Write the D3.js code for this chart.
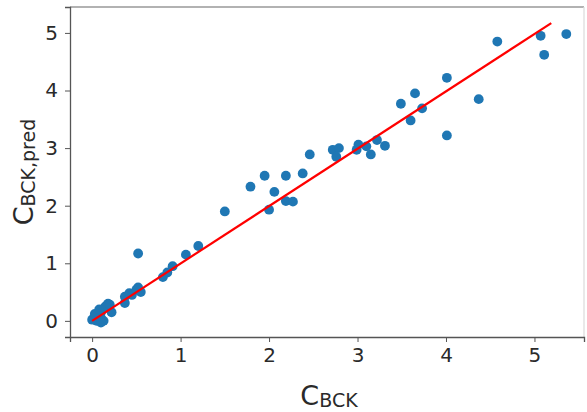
<!DOCTYPE html>
<html>
<head>
<meta charset="utf-8">
<script src="https://cdn.jsdelivr.net/npm/d3@7"></script>
<style>
  body { margin: 0; background: #fff; }
  text { font-family: "DejaVu Sans", sans-serif; fill: #2a2a2a; }
</style>
</head>
<body>
<script>
const actual = [
  0.00, 0.02, 0.05, 0.08, 0.10, 0.12, 0.15, 0.18, 0.20, 0.22, 0.05, 0.10, 0.13, 0.03, 0.08, 0.10,
  0.37, 0.37, 0.42, 0.45, 0.50, 0.55, 0.52, 0.52,
  0.80, 0.85, 0.91, 1.06, 1.20, 1.50,
  1.79, 1.95, 2.06, 2.00, 2.19, 2.19, 2.27, 2.38, 2.46,
  2.72, 2.79, 2.76, 3.01, 2.99, 3.10, 3.15, 3.22, 3.31,
  3.49, 3.60, 3.65, 3.73, 4.01, 4.01, 4.37, 4.58, 5.07, 5.11, 5.36
];
const predicted = [
  0.02, 0.05, 0.10, 0.02, 0.15, 0.20, 0.25, 0.30, 0.28, 0.15, 0.00, 0.05, 0.00, 0.12, 0.20, -0.03,
  0.31, 0.42, 0.48, 0.45, 0.54, 0.50, 0.58, 1.17,
  0.76, 0.84, 0.95, 1.15, 1.30, 1.90,
  2.33, 2.52, 2.24, 1.93, 2.52, 2.08, 2.07, 2.56, 2.89,
  2.97, 3.00, 2.85, 3.06, 2.97, 3.03, 2.89, 3.14, 3.04,
  3.77, 3.48, 3.95, 3.69, 4.22, 3.22, 3.85, 4.85, 4.95, 4.62, 4.98
];
const lineX = [0.0, 5.19];
const lineY = [0.0, 5.17];
const xTicks = [0, 1, 2, 3, 4, 5];
const yTicks = [0, 1, 2, 3, 4, 5];

const W = 587, H = 412;
const svg = d3.select('body').append('svg')
  .attr('width', W)
  .attr('height', H);

const mLeft = 70, mRight = 584, mTop = 7, mBottom = 337;

const x = d3.scaleLinear().domain([-0.25, 5.56]).range([mLeft, mRight]);
const y = d3.scaleLinear().domain([-0.28, 5.45]).range([mBottom, mTop]);

// dots
svg.append('g')
  .selectAll('circle')
  .data(actual.map((d, i) => [d, predicted[i]]))
  .enter()
  .append('circle')
  .attr('cx', d => x(d[0]))
  .attr('cy', d => y(d[1]))
  .attr('r', 4.9)
  .attr('fill', '#1f77b4');

// fit line
svg.append('path')
  .datum(lineX.map((d, i) => [d, lineY[i]]))
  .attr('d', d3.line().x(d => x(d[0])).y(d => y(d[1])))
  .attr('stroke', '#ff0000')
  .attr('stroke-width', 2.2)
  .attr('fill', 'none');

// frame
svg.append('line').attr('x1', mLeft).attr('x2', mRight).attr('y1', mTop).attr('y2', mTop)
  .attr('stroke', '#999').attr('stroke-width', 1.3);
svg.append('line').attr('x1', mRight).attr('x2', mRight).attr('y1', mTop).attr('y2', mBottom)
  .attr('stroke', '#ddd').attr('stroke-width', 1.3);

const xAxis = svg.append('g')
  .attr('transform', `translate(0,${mBottom})`)
  .call(d3.axisBottom(x).tickValues(xTicks).tickSize(5).tickPadding(6).tickFormat(d3.format('d')));
const yAxis = svg.append('g')
  .attr('transform', `translate(${mLeft},0)`)
  .call(d3.axisLeft(y).tickValues(yTicks).tickSize(5).tickPadding(7).tickFormat(d3.format('d')));

[xAxis, yAxis].forEach(g => {
  g.select('.domain').attr('stroke', '#555').attr('stroke-width', 1.3);
  g.selectAll('.tick line').attr('stroke', '#555').attr('stroke-width', 1);
  g.selectAll('.tick text').attr('font-size', 20).attr('fill', '#2a2a2a')
    .style('font-family', '"DejaVu Sans", sans-serif');
});

// axis labels
const xl = svg.append('text')
  .attr('x', (mLeft + mRight) / 2 + 2)
  .attr('y', 405)
  .attr('text-anchor', 'middle');
xl.append('tspan').attr('font-size', 27).text('C');
xl.append('tspan').attr('font-size', 19).attr('dy', 2).text('BCK');

const yl = svg.append('text')
  .attr('transform', `translate(33,${(mTop + mBottom) / 2}) rotate(-90)`)
  .attr('text-anchor', 'middle');
yl.append('tspan').attr('font-size', 27).text('C');
yl.append('tspan').attr('font-size', 19).attr('dy', 2).text('BCK,pred');
</script>
</body>
</html>
